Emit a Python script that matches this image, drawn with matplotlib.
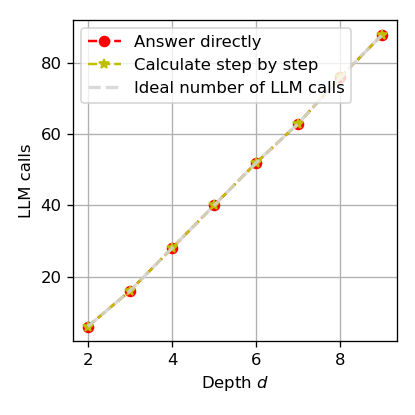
import numpy as np
import matplotlib
matplotlib.use("Agg")
import matplotlib.pyplot as plt

depth = [2, 3, 4, 5, 6, 7, 8, 9]
answer_directly = [6, 16, 28, 40, 52, 63, 76, 88]
step_by_step = [6, 16, 28, 40, 52, 63, 76, 88]
ideal_calls = [6, 16, 28, 40, 52, 63, 76, 88]

fig, ax = plt.subplots(figsize=(3.5, 3.5), dpi=415 / 3.5)
ax.plot(depth, answer_directly, 'r--o', label='Answer directly')
ax.plot(depth, step_by_step, 'y--*', label='Calculate step by step')
ax.plot(depth, ideal_calls, '--', color='lightgray', linewidth=2, alpha=0.85,
        label='Ideal number of LLM calls')
ax.set_xlabel('Depth $d$')
ax.set_ylabel('LLM calls')
ax.grid(True)
ax.legend(loc='upper left')
fig.subplots_adjust(left=0.176, right=0.957, top=0.952, bottom=0.178)
fig.savefig('out.png')
